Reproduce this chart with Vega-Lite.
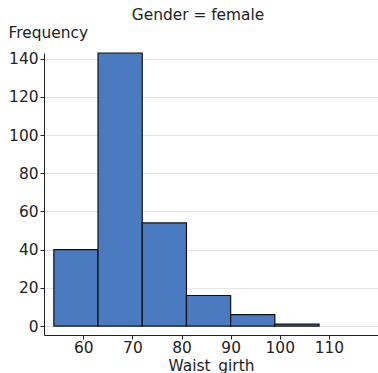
{
  "$schema": "https://vega.github.io/schema/vega-lite/v6.json",
  "autosize": "none",
  "width": 334,
  "height": 282,
  "padding": {"left": 44, "top": 53, "right": 0, "bottom": 38},
  "background": "white",
  "title": {
    "text": "Gender = female",
    "font": "DejaVu Sans",
    "fontSize": 15.4,
    "fontWeight": "normal",
    "color": "#222222",
    "anchor": "middle",
    "frame": "group",
    "dx": -13,
    "offset": 2
  },
  "data": {
    "values": [
      {"bin_start": 54, "bin_end": 63, "count": 40},
      {"bin_start": 63, "bin_end": 72, "count": 143},
      {"bin_start": 72, "bin_end": 81, "count": 54},
      {"bin_start": 81, "bin_end": 90, "count": 16},
      {"bin_start": 90, "bin_end": 99, "count": 6},
      {"bin_start": 99, "bin_end": 108, "count": 1}
    ]
  },
  "config": {
    "view": {"stroke": null},
    "axis": {
      "labelFont": "DejaVu Sans",
      "titleFont": "DejaVu Sans",
      "labelFontSize": 15.4,
      "titleFontSize": 15.4,
      "titleFontWeight": "normal",
      "labelColor": "#222222",
      "titleColor": "#222222",
      "domainColor": "#222222",
      "tickColor": "#222222",
      "tickSize": 4
    }
  },
  "mark": {"type": "rect", "fill": "#4a7abf", "stroke": "#111111", "strokeWidth": 1.2},
  "encoding": {
    "x": {
      "field": "bin_start",
      "type": "quantitative",
      "scale": {"domain": [52, 120], "nice": false, "zero": false},
      "axis": {
        "values": [60, 70, 80, 90, 100, 110],
        "grid": false,
        "title": "Waist_girth",
        "titlePadding": 3,
        "labelPadding": 1
      }
    },
    "x2": {"field": "bin_end"},
    "y": {
      "field": "count",
      "type": "quantitative",
      "scale": {"domain": [-4.7, 143], "nice": false, "zero": false},
      "axis": {
        "values": [0, 20, 40, 60, 80, 100, 120, 140],
        "grid": true,
        "gridColor": "#e6e6e6",
        "title": "Frequency",
        "titleAngle": 0,
        "titleAlign": "left",
        "titleBaseline": "alphabetic",
        "titleX": -36,
        "titleY": -16,
        "labelPadding": 2
      }
    },
    "y2": {"datum": 0}
  }
}
